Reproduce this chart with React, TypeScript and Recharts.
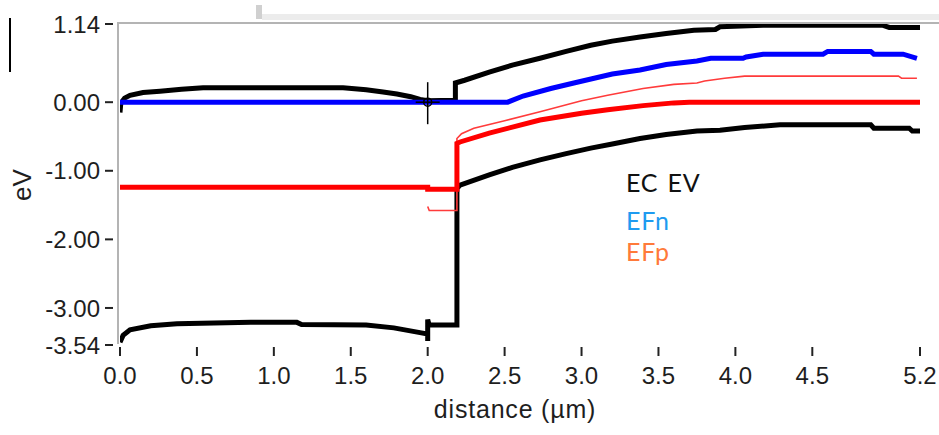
import { LineChart, Line, XAxis, YAxis, ReferenceDot } from "recharts";

// band diagram, values in eV vs distance (µm)
const X_TICKS = [0, 0.5, 1.0, 1.5, 2.0, 2.5, 3.0, 3.5, 4.0, 4.5, 5.2];
const Y_TICKS = [1.14, 0, -1, -2, -3, -3.54];

const EC: [number, number][] = [
  [0.0, -0.15], [0.005, -0.02], [0.03, 0.06], [0.065, 0.1], [0.15, 0.14],
  [0.26, 0.16], [0.4, 0.19], [0.54, 0.21], [1.0, 0.21], [1.45, 0.21],
  [1.6, 0.18], [1.71, 0.15], [1.8, 0.12], [1.89, 0.08], [1.95, 0.04],
  [2.0, 0.02], [2.18, 0.03], [2.18, 0.28], [2.24, 0.32], [2.4, 0.44],
  [2.55, 0.54], [2.73, 0.64], [2.9, 0.74], [3.06, 0.83], [3.2, 0.89],
  [3.38, 0.95], [3.55, 1.0], [3.73, 1.05], [3.87, 1.06], [3.9, 1.1],
  [4.18, 1.12], [4.96, 1.12], [5.0, 1.09], [5.2, 1.09],
];

const EV: [number, number][] = [
  [0.0, -3.5], [0.02, -3.4], [0.065, -3.32], [0.2, -3.26], [0.37, -3.23],
  [0.85, -3.21], [1.15, -3.21], [1.18, -3.24], [1.6, -3.25], [1.78, -3.29],
  [1.95, -3.36], [2.0, -3.38], [2.0, -3.48], [2.0, -3.17], [2.01, -3.25],
  [2.19, -3.25], [2.19, -1.26], [2.21, -1.21], [2.4, -1.06], [2.55, -0.95],
  [2.73, -0.84], [2.9, -0.75], [3.06, -0.67], [3.2, -0.61], [3.38, -0.53],
  [3.55, -0.47], [3.75, -0.42], [3.9, -0.41], [4.06, -0.37], [4.29, -0.33],
  [4.88, -0.33], [4.9, -0.38], [5.13, -0.38], [5.15, -0.42], [5.2, -0.42],
];

const EFN: [number, number][] = [
  [0.0, 0.0], [2.52, 0.0], [2.62, 0.09], [2.8, 0.2], [2.95, 0.28],
  [3.2, 0.41], [3.38, 0.47], [3.55, 0.55], [3.75, 0.6], [3.84, 0.64],
  [4.05, 0.64], [4.07, 0.66], [4.18, 0.7], [4.57, 0.7], [4.6, 0.74],
  [4.88, 0.74], [4.9, 0.7], [5.09, 0.7], [5.18, 0.64],
];

const EFP: [number, number][] = [
  [0.0, -1.24], [2.0, -1.24], [2.0, -1.27], [2.19, -1.27], [2.19, -0.6],
  [2.21, -0.58], [2.4, -0.45], [2.73, -0.26], [3.0, -0.16], [3.17, -0.11],
  [3.4, -0.05], [3.6, -0.01], [3.7, 0.0], [5.2, 0.0],
];

// thin red trace
const EFP2: [number, number][] = [
  [2.0, -1.52], [2.01, -1.58], [2.19, -1.58], [2.19, -0.53], [2.22, -0.46],
  [2.3, -0.38], [2.5, -0.27], [2.73, -0.14], [3.0, 0.02], [3.17, 0.1],
  [3.4, 0.2], [3.6, 0.26], [3.75, 0.28], [3.8, 0.31], [3.93, 0.35],
  [4.06, 0.38], [5.06, 0.38], [5.08, 0.35], [5.18, 0.35],
];

const LEGEND = [
  { label: "EC EV", color: "#111111" },
  { label: "EFn", color: "#1e9bf0" },
  { label: "EFp", color: "#ff7a3a" },
];

const toRows = (pts: [number, number][]) => pts.map(([x, y]) => ({ x, y }));

const FONT = "'Liberation Sans', Arial, sans-serif";
const LEGEND_Y = [192, 230, 261];

function YTick(props: any) {
  const { y, payload } = props;
  return (
    <g>
      <line x1={105} x2={113} y1={y} y2={y} stroke="#222" strokeWidth={2} />
      <text x={100} y={y} dy="0.36em" textAnchor="end" fontSize={24} fontFamily={FONT} fill="#1e1e1e">
        {Number(payload.value).toFixed(2)}
      </text>
    </g>
  );
}

function XTick(props: any) {
  const { x, payload } = props;
  return (
    <g>
      <line x1={x} x2={x} y1={347} y2={356} stroke="#222" strokeWidth={2} />
      <text x={x} y={384} textAnchor="middle" fontSize={24} fontFamily={FONT} fill="#1e1e1e">
        {Number(payload.value).toFixed(1)}
      </text>
    </g>
  );
}

function Cursor(props: any) {
  const { cx, cy } = props;
  return (
    <g stroke="#000" strokeWidth={1.5} fill="none">
      <line x1={cx} x2={cx} y1={cy - 20} y2={cy + 22} />
      <line x1={cx - 12} x2={cx + 12} y1={cy} y2={cy} />
      <circle cx={cx} cy={cy} r={4} />
    </g>
  );
}

export default function App() {
  return (
    <div style={{ position: "absolute", left: 0, top: 0, width: 939, height: 435, background: "#fff", overflow: "hidden" }}>
      {/* window decoration bits */}
      <div style={{ position: "absolute", left: 9, top: 18, width: 2, height: 54, background: "#000" }} />
      <div style={{ position: "absolute", left: 256, top: 5, width: 6, height: 14, background: "#d0d0d0" }} />
      <div style={{ position: "absolute", left: 262, top: 14, width: 677, height: 6, background: "#ececec" }} />
      <div style={{ position: "absolute", left: 117, top: 22, width: 822, height: 2, background: "#b4b4b4" }} />
      <div style={{ position: "absolute", left: 117, top: 22, width: 2, height: 322, background: "#b4b4b4" }} />

      <LineChart width={939} height={435} margin={{ top: 24, right: 19, bottom: 0, left: 0 }} style={{ position: "absolute", left: 0, top: 0 }}>
        <XAxis
          dataKey="x"
          type="number"
          domain={[0, 5.2]}
          ticks={X_TICKS}
          interval={0}
          height={90}
          axisLine={false}
          tickLine={false}
          tick={<XTick />}
          allowDataOverflow
        />
        <YAxis
          type="number"
          domain={[-3.54, 1.14]}
          ticks={Y_TICKS}
          interval={0}
          width={120}
          axisLine={false}
          tickLine={false}
          tick={<YTick />}
          allowDataOverflow
        />
        <Line data={toRows(EC)} dataKey="y" type="linear" stroke="#000" strokeWidth={5} dot={false} isAnimationActive={false} />
        <Line data={toRows(EV)} dataKey="y" type="linear" stroke="#000" strokeWidth={5} dot={false} isAnimationActive={false} />
        <Line data={toRows(EFP2)} dataKey="y" type="linear" stroke="#ff3b3b" strokeWidth={1.6} dot={false} isAnimationActive={false} />
        <Line data={toRows(EFP)} dataKey="y" type="linear" stroke="#ff0000" strokeWidth={5} dot={false} isAnimationActive={false} />
        <Line data={toRows(EFN)} dataKey="y" type="linear" stroke="#0000ff" strokeWidth={5} dot={false} isAnimationActive={false} />
        <ReferenceDot x={2.0} y={0} r={4} shape={<Cursor />} />
        <text x={515} y={418} textAnchor="middle" fontSize={25} letterSpacing={0.8} fontFamily={FONT} fill="#1e1e1e">
          distance (µm)
        </text>
        <text x={22} y={185} transform="rotate(-90 22 185)" textAnchor="middle" dominantBaseline="central" fontSize={26} fontFamily={FONT} fill="#1e1e1e">
          eV
        </text>
        {LEGEND.map((item, i) => (
          <text
            key={item.label}
            x={626}
            y={LEGEND_Y[i]}
            fontSize={25}
            wordSpacing={2}
            letterSpacing={0.8}
            fontFamily="Lato, 'Open Sans', sans-serif"
            fill={item.color}
          >
            {item.label}
          </text>
        ))}
      </LineChart>
    </div>
  );
}
